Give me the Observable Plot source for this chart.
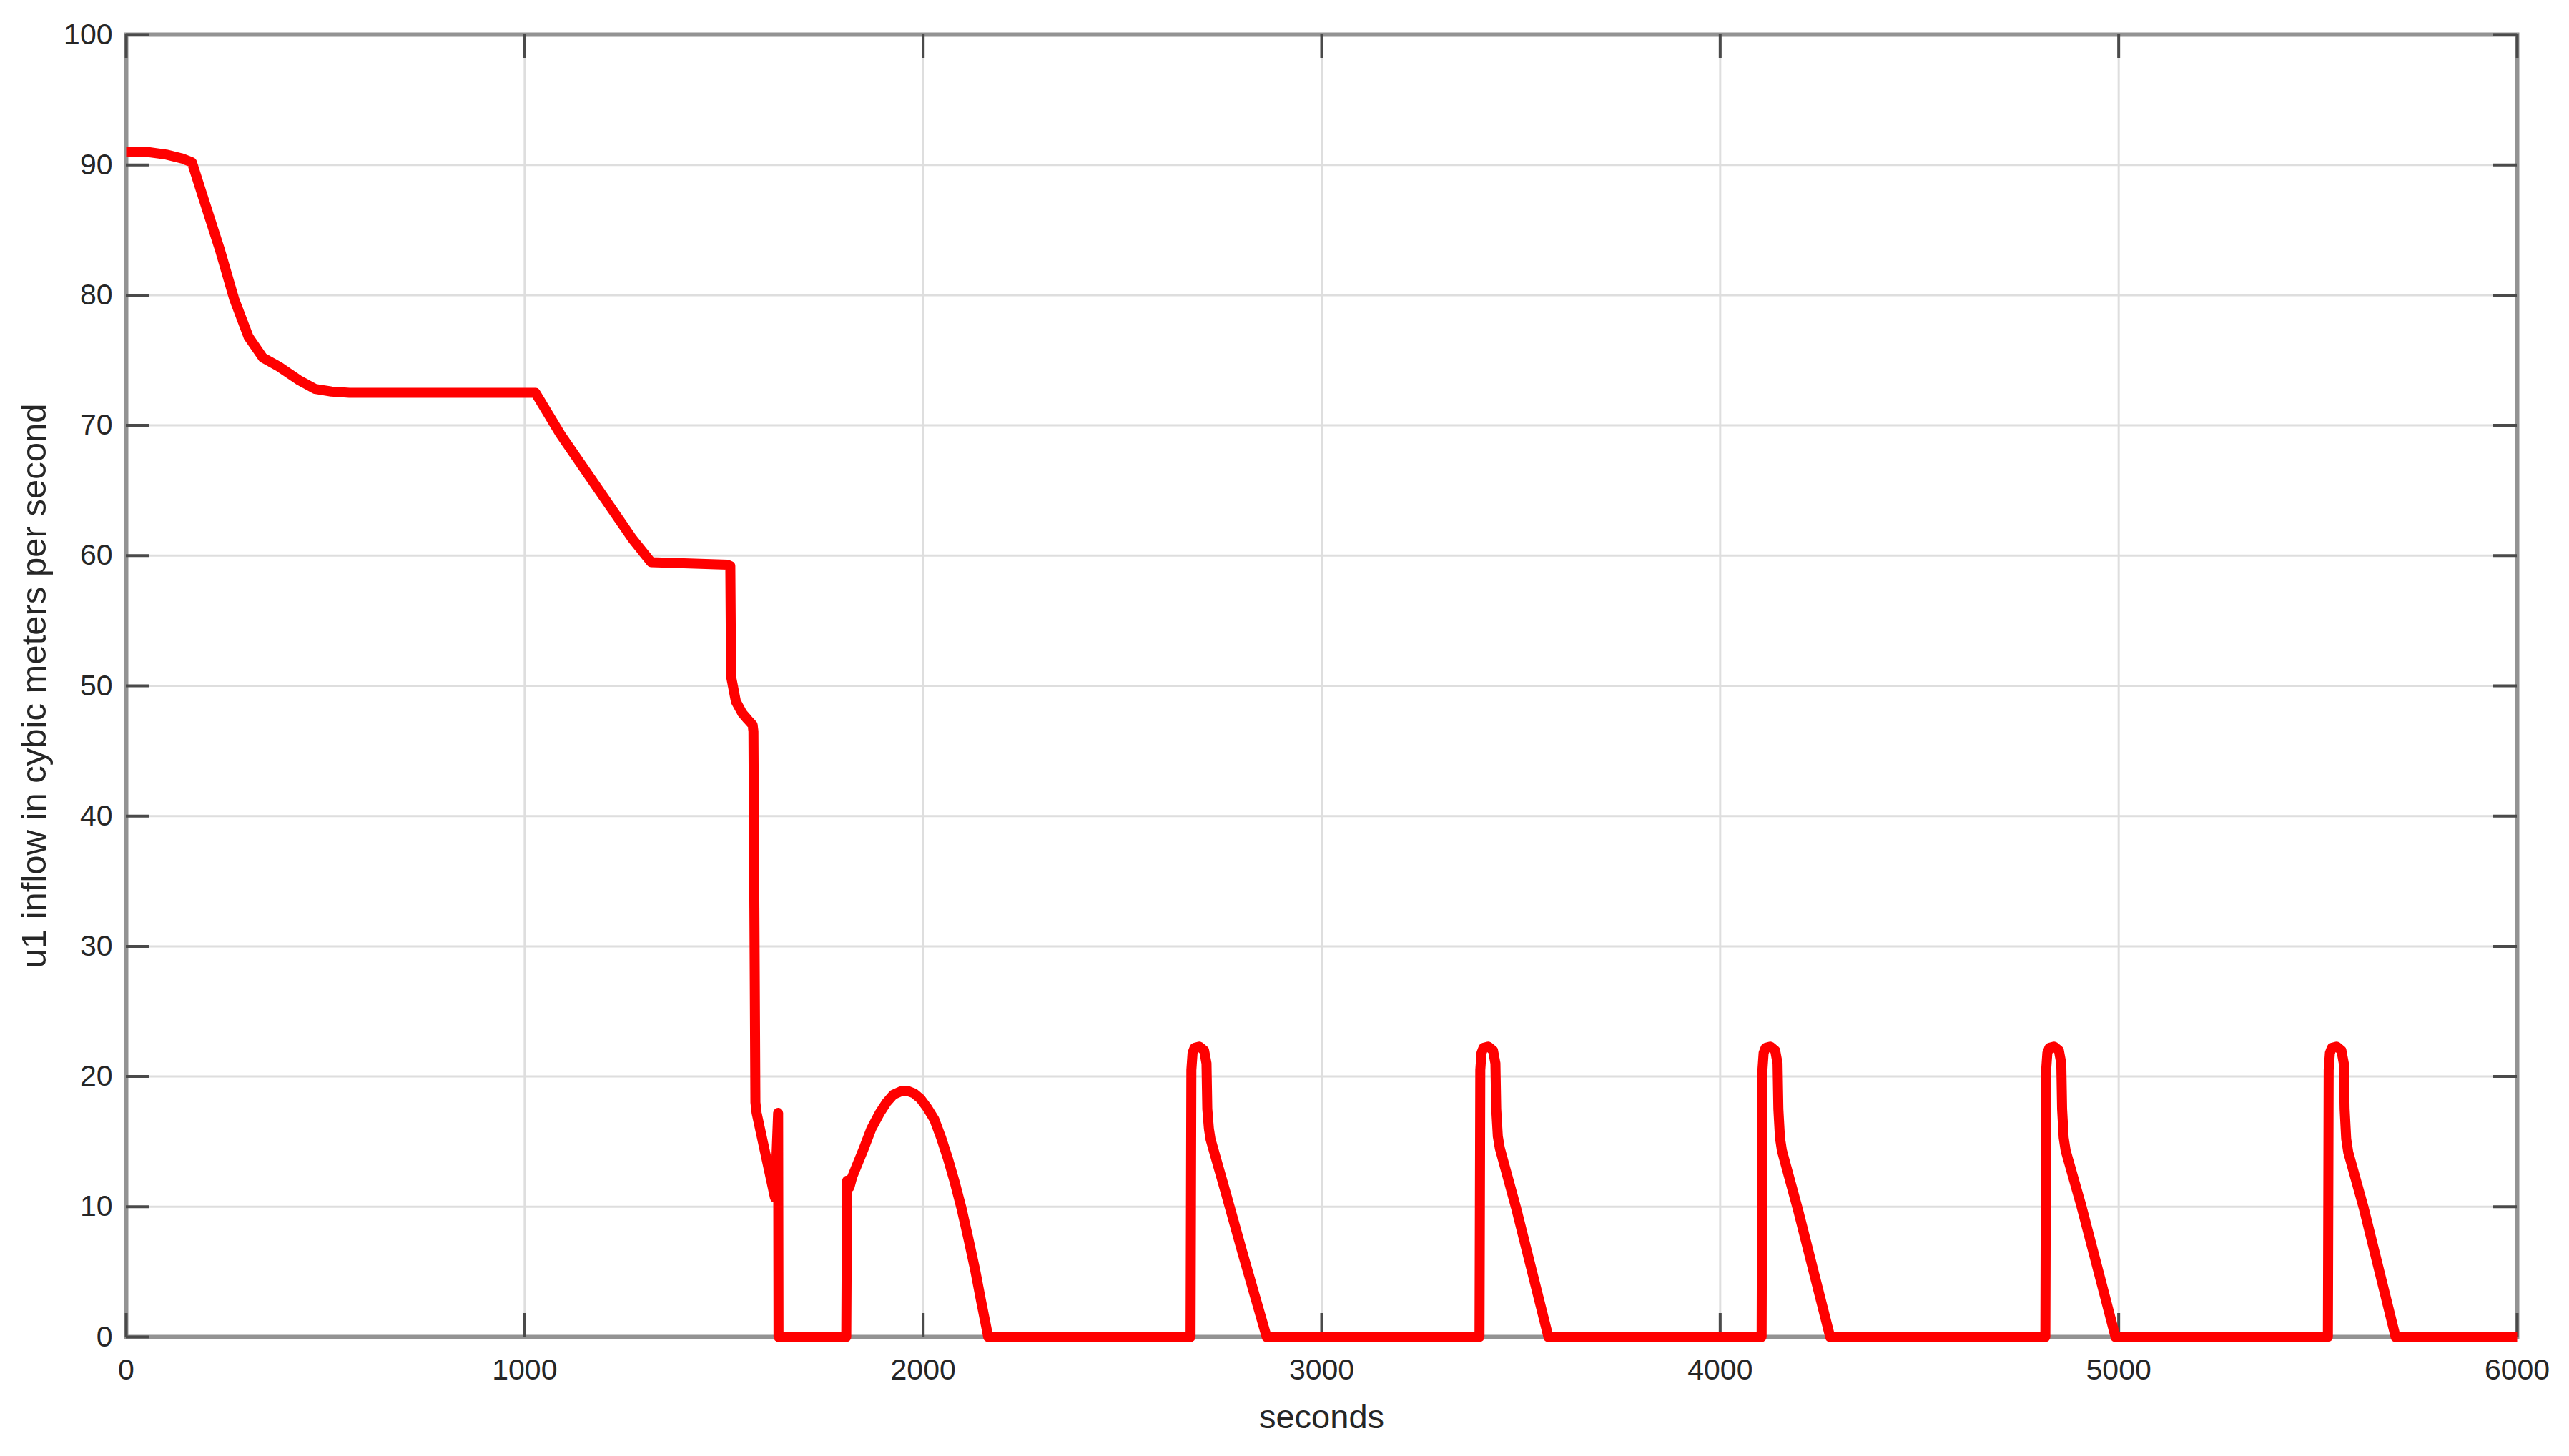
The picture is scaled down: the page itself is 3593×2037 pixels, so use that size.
<!DOCTYPE html>
<html>
<head>
<meta charset="utf-8">
<script src="https://cdn.jsdelivr.net/npm/d3@7"></script>
<script src="https://cdn.jsdelivr.net/npm/@observablehq/plot@0.6"></script>
<style>
  html, body { margin: 0; padding: 0; background: #ffffff; }
  #chart { width: 3593px; height: 2037px; }
</style>
</head>
<body>
<div id="chart"></div>
<script>
// ---- data ----
const xTicks = [0, 1000, 2000, 3000, 4000, 5000, 6000];
const yTicks = [0, 10, 20, 30, 40, 50, 60, 70, 80, 90, 100];
const xLabel = "seconds";
const yLabel = "u1 inflow in cybic meters per second";

const seconds = [
  0, 52, 100, 140, 165, 192, 235, 271, 307, 343, 384, 432, 474, 515, 560,
  1027, 1090, 1180, 1270, 1317, 1509, 1516, 1518, 1530, 1546, 1560, 1572,
  1574, 1579, 1582, 1628, 1636, 1637,
  1807, 1809, 1815, 1822, 1850, 1870, 1891, 1908, 1925, 1943, 1960, 1977, 1993, 2010, 2028, 2045, 2062, 2079, 2096, 2113, 2130, 2145, 2158, 2163,
  2671, 2673, 2676, 2681, 2693, 2705, 2711, 2713, 2717, 2721, 2760, 2800, 2862,
  3396, 3398, 3401, 3406, 3418, 3430, 3436, 3438, 3442, 3447, 3488, 3569,
  4104, 4106, 4109, 4114, 4126, 4138, 4144, 4146, 4150, 4155, 4195, 4276,
  4816, 4818, 4821, 4826, 4838, 4850, 4856, 4858, 4862, 4867, 4906, 4992,
  5525, 5527, 5530, 5535, 5547, 5559, 5565, 5567, 5571, 5576, 5615, 5695,
  6000
];
const inflow = [
  91.0, 91.0, 90.8, 90.5, 90.2, 87.6, 83.5, 79.7, 76.8, 75.2, 74.5, 73.5, 72.8, 72.6, 72.5,
  72.5, 69.3, 65.3, 61.3, 59.5, 59.3, 59.2, 50.7, 48.8, 47.9, 47.4, 47.0,
  46.5, 18.0, 17.2, 10.7, 17.2, 0,
  0, 12.0, 11.5, 12.3, 14.4, 16.0, 17.2, 18.0, 18.6, 18.85, 18.9, 18.7, 18.3, 17.6, 16.7, 15.3, 13.7, 11.9, 9.9, 7.6, 5.2, 2.8, 0.8, 0,
  0, 20.5, 21.8, 22.2, 22.3, 22.0, 21.0, 17.5, 16.0, 15.2, 11.0, 6.6, 0,
  0, 20.5, 21.8, 22.2, 22.3, 22.0, 21.0, 17.5, 15.4, 14.5, 9.9, 0,
  0, 20.5, 21.8, 22.2, 22.3, 22.0, 21.0, 17.5, 15.3, 14.3, 9.8, 0,
  0, 20.5, 21.8, 22.2, 22.3, 22.0, 21.0, 17.5, 15.3, 14.3, 10.1, 0,
  0, 20.5, 21.8, 22.2, 22.3, 22.0, 21.0, 17.5, 15.2, 14.2, 9.9, 0,
  0
];

const series = seconds.map((t, i) => ({t, v: inflow[i]}));

// ---- layout ----
const W = 3593, H = 2037;
const mL = 176, mR = 73, mT = 48, mB = 167;
const innerW = W - mL - mR, innerH = H - mT - mB;
const tickLen = 33;
const tickColor = "#4a4a4a";
const textColor = "#262626";

const chart = Plot.plot({
  width: W,
  height: H,
  marginLeft: mL,
  marginRight: mR,
  marginTop: mT,
  marginBottom: mB,
  style: {fontFamily: "'Liberation Sans', Arial, Helvetica, sans-serif", background: "#ffffff"},
  x: {domain: [0, 6000]},
  y: {domain: [0, 100]},
  marks: [
    Plot.gridX(xTicks, {stroke: "#dedede", strokeOpacity: 1, strokeWidth: 3}),
    Plot.gridY(yTicks, {stroke: "#dedede", strokeOpacity: 1, strokeWidth: 3}),
    Plot.frame({stroke: "#939393", strokeWidth: 6}),
    // inward ticks on all four sides
    Plot.ruleX(xTicks, {x: d => d, insetTop: innerH - tickLen, stroke: tickColor, strokeWidth: 4}),
    Plot.ruleX(xTicks, {x: d => d, insetBottom: innerH - tickLen, stroke: tickColor, strokeWidth: 4}),
    Plot.ruleY(yTicks, {y: d => d, insetRight: innerW - tickLen, stroke: tickColor, strokeWidth: 4}),
    Plot.ruleY(yTicks, {y: d => d, insetLeft: innerW - tickLen, stroke: tickColor, strokeWidth: 4}),
    Plot.axisX(xTicks, {anchor: "bottom", tickSize: 0, tickPadding: 30, fontSize: 41, fill: textColor, label: null, tickFormat: d => String(d)}),
    Plot.axisY(yTicks, {anchor: "left", tickSize: 0, tickPadding: 19, fontSize: 41, fill: textColor, label: null, tickFormat: d => String(d)}),
    Plot.text([xLabel], {text: d => d, frameAnchor: "bottom", dy: 127, fontSize: 47, fill: textColor, textAnchor: "middle"}),
    Plot.text([yLabel], {text: d => d, frameAnchor: "left", dx: -128, rotate: -90, fontSize: 49, fill: textColor, textAnchor: "middle"}),
    Plot.line(series, {x: "t", y: "v", stroke: "#ff0000", strokeWidth: 14, strokeLinejoin: "round", strokeLinecap: "butt"})
  ]
});

document.getElementById("chart").appendChild(chart);
</script>
</body>
</html>
